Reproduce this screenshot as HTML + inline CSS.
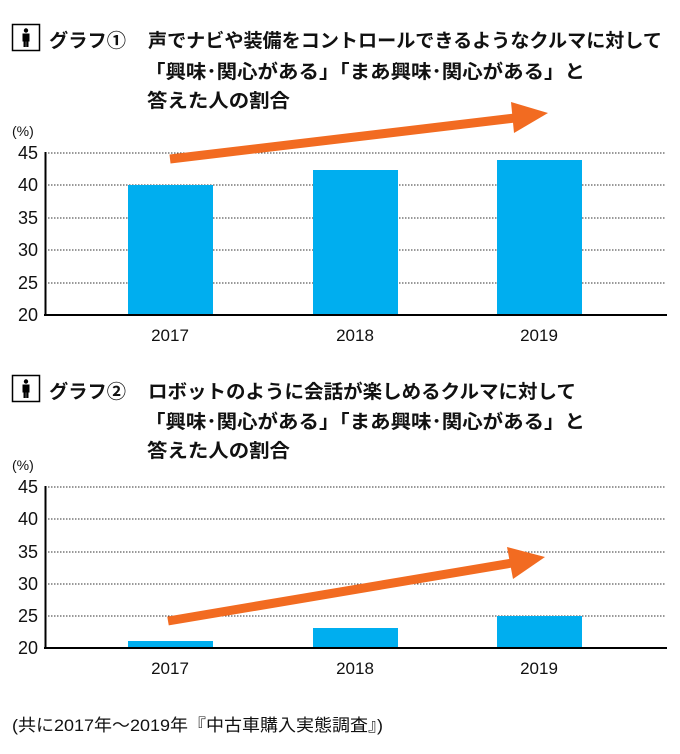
<!DOCTYPE html><html><head><meta charset="utf-8"><style>
body{margin:0;background:#fff;width:680px;height:749px;overflow:hidden;font-family:"Liberation Sans","Noto Sans CJK JP",sans-serif;}
svg text{font-family:"Liberation Sans","Noto Sans CJK JP",sans-serif;}
</style></head><body>
<svg width="680" height="749" viewBox="0 0 680 749" xmlns="http://www.w3.org/2000/svg">
<defs>
<g id="icon"><rect x="0.5" y="0.5" width="27" height="26" fill="#fff" stroke="#000" stroke-width="1.5"/>
<circle cx="14" cy="6.5" r="2.2" fill="#000"/><rect x="10.5" y="9.5" width="7" height="8" fill="#000"/><rect x="11.5" y="17" width="2.3" height="6" fill="#000"/><rect x="14.2" y="17" width="2.3" height="6" fill="#000"/></g>
</defs>
<use href="#icon" x="12" y="24"/>
<g font-size="19" font-weight="bold" fill="#111">
<text x="49" y="47" textLength="77" lengthAdjust="spacingAndGlyphs">グラフ①</text>
<text x="148" y="47" textLength="514" lengthAdjust="spacingAndGlyphs">声でナビや装備をコントロールできるようなクルマに対して</text>
<text x="145" y="78" textLength="440" lengthAdjust="spacingAndGlyphs">「興味･関心がある」「まあ興味･関心がある」と</text>
<text x="147" y="107" textLength="143" lengthAdjust="spacingAndGlyphs">答えた人の割合</text>
</g>
<text x="12" y="136" font-size="14" fill="#111">(%)</text>
<g stroke="#333" stroke-width="1" stroke-dasharray="1.5,1.5">
<line x1="45" y1="153" x2="666" y2="153"/><line x1="45" y1="185" x2="666" y2="185"/><line x1="45" y1="218" x2="666" y2="218"/><line x1="45" y1="250" x2="666" y2="250"/><line x1="45" y1="283" x2="666" y2="283"/>
</g>
<g font-size="18" fill="#111" text-anchor="end">
<text x="38" y="159">45</text><text x="38" y="191">40</text><text x="38" y="224">35</text><text x="38" y="256">30</text><text x="38" y="289">25</text><text x="38" y="321">20</text>
</g>
<g fill="#00aeef"><rect x="128" y="185" width="85" height="130"/><rect x="313" y="170" width="85" height="145"/><rect x="497" y="160" width="85" height="155"/></g>
<line x1="45.5" y1="152" x2="45.5" y2="316" stroke="#000" stroke-width="2"/>
<line x1="44" y1="315" x2="667" y2="315" stroke="#000" stroke-width="2"/>
<g font-size="17" fill="#111" text-anchor="middle"><text x="170" y="341">2017</text><text x="355" y="341">2018</text><text x="539" y="341">2019</text></g>
<line x1="170" y1="159" x2="515" y2="118" stroke="#f26b21" stroke-width="9"/>
<polygon points="548,113 511,102 514,133" fill="#f26b21"/>

<use href="#icon" x="12" y="375"/>
<g font-size="19" font-weight="bold" fill="#111">
<text x="49" y="398" textLength="77" lengthAdjust="spacingAndGlyphs">グラフ②</text>
<text x="148" y="398" textLength="428" lengthAdjust="spacingAndGlyphs">ロボットのように会話が楽しめるクルマに対して</text>
<text x="145" y="428" textLength="440" lengthAdjust="spacingAndGlyphs">「興味･関心がある」「まあ興味･関心がある」と</text>
<text x="147" y="457" textLength="143" lengthAdjust="spacingAndGlyphs">答えた人の割合</text>
</g>
<text x="12" y="470" font-size="14" fill="#111">(%)</text>
<g stroke="#333" stroke-width="1" stroke-dasharray="1.5,1.5">
<line x1="45" y1="487" x2="666" y2="487"/><line x1="45" y1="519" x2="666" y2="519"/><line x1="45" y1="552" x2="666" y2="552"/><line x1="45" y1="584" x2="666" y2="584"/><line x1="45" y1="616" x2="666" y2="616"/>
</g>
<g font-size="18" fill="#111" text-anchor="end">
<text x="38" y="493">45</text><text x="38" y="525">40</text><text x="38" y="558">35</text><text x="38" y="590">30</text><text x="38" y="622">25</text><text x="38" y="654">20</text>
</g>
<g fill="#00aeef"><rect x="128" y="641" width="85" height="7"/><rect x="313" y="628" width="85" height="20"/><rect x="497" y="616" width="85" height="32"/></g>
<line x1="45.5" y1="486" x2="45.5" y2="649" stroke="#000" stroke-width="2"/>
<line x1="44" y1="648" x2="667" y2="648" stroke="#000" stroke-width="2"/>
<g font-size="17" fill="#111" text-anchor="middle"><text x="170" y="674">2017</text><text x="355" y="674">2018</text><text x="539" y="674">2019</text></g>
<line x1="168" y1="621" x2="512" y2="563" stroke="#f26b21" stroke-width="9"/>
<polygon points="545,557 507,547 513,579" fill="#f26b21"/>

<text x="12" y="731" font-size="17" fill="#111" textLength="371" lengthAdjust="spacingAndGlyphs">(共に2017年～2019年『中古車購入実態調査』)</text>
</svg>
</body></html>
